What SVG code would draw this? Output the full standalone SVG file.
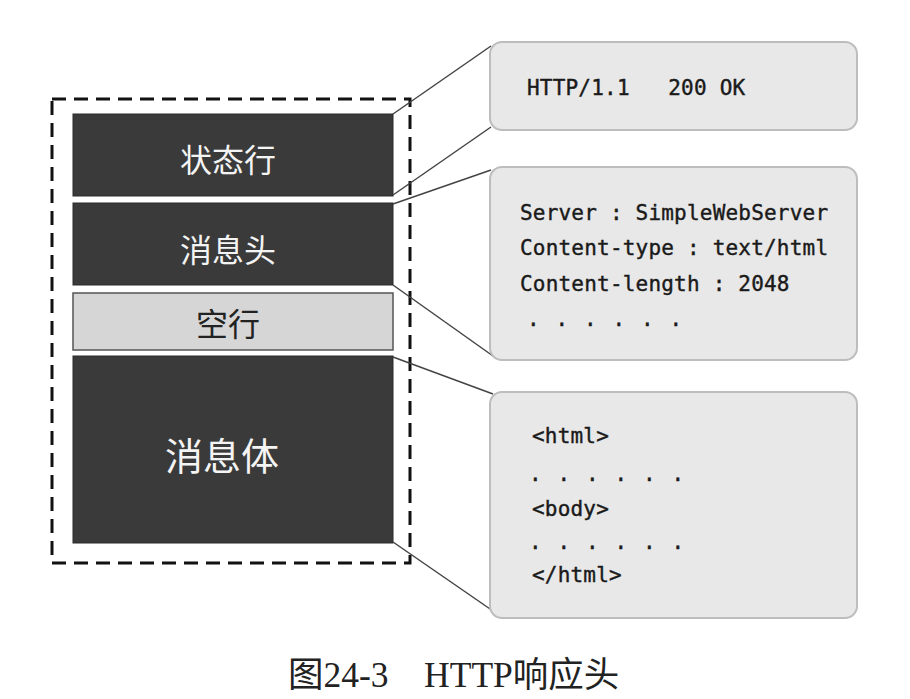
<svg xmlns="http://www.w3.org/2000/svg" width="910" height="699" viewBox="0 0 910 699">
<style>
.dark{fill:#3a3a3a;stroke:#2a2a2a;stroke-width:1}
.light{fill:#d6d6d6;stroke:#555;stroke-width:1.5}
.box{fill:#e8e8e8;stroke:#bdbdbd;stroke-width:2}
.cn{font-family:"Noto Sans CJK SC",sans-serif;text-anchor:middle}
.w{fill:#f4f4f4}
.mono{font-family:"DejaVu Sans Mono","Liberation Mono",monospace;font-size:21px;fill:#1a1a1a;stroke:#1a1a1a;stroke-width:0.4;letter-spacing:0.2px}
.dots{letter-spacing:1.6px}
.conn line{stroke:#444;stroke-width:1.5}
</style>
<rect width="910" height="699" fill="#ffffff"/>
<g id="frame">
<rect x="52" y="99" width="358" height="464" fill="none" stroke="#111" stroke-width="3" stroke-dasharray="14 8"/>
</g>
<g id="status-line">
<rect class="dark" x="73" y="114" width="320" height="82"/>
<text class="cn w" x="228" y="172" font-size="32">状态行</text>
</g>
<g id="message-header">
<rect class="dark" x="73" y="203" width="320" height="82"/>
<text class="cn w" x="228" y="262" font-size="32">消息头</text>
</g>
<g id="blank-line">
<rect class="light" x="73" y="293" width="320" height="57"/>
<text class="cn" x="228" y="336" font-size="32" fill="#222">空行</text>
</g>
<g id="message-body">
<rect class="dark" x="73" y="356" width="320" height="187"/>
<text class="cn w" x="222" y="470" font-size="38">消息体</text>
</g>
<g id="conn" class="conn">
<line x1="393" y1="114" x2="491" y2="46"/>
<line x1="393" y1="195" x2="491" y2="127"/>
<line x1="393" y1="204" x2="491" y2="170"/>
<line x1="393" y1="285" x2="493" y2="356"/>
<line x1="393" y1="357" x2="493" y2="394"/>
<line x1="393" y1="542" x2="493" y2="611"/>
</g>
<g id="box-status">
<rect class="box" x="490" y="42" width="367" height="88" rx="12"/>
<text class="mono" x="527" y="95" xml:space="preserve">HTTP/1.1   200 OK</text>
</g>
<g id="box-header">
<rect class="box" x="490" y="167" width="367" height="193" rx="12"/>
<text class="mono" x="520" y="220">Server : SimpleWebServer</text>
<text class="mono" x="520" y="255">Content-type : text/html</text>
<text class="mono" x="520" y="291">Content-length : 2048</text>
<text class="mono dots" x="527" y="326">. . . . . .</text>
</g>
<g id="box-body">
<rect class="box" x="490" y="392" width="367" height="226" rx="12"/>
<text class="mono" x="532" y="443">&lt;html&gt;</text>
<text class="mono dots" x="529" y="481">. . . . . .</text>
<text class="mono" x="532" y="516">&lt;body&gt;</text>
<text class="mono dots" x="529" y="549">. . . . . .</text>
<text class="mono" x="532" y="582">&lt;/html&gt;</text>
</g>
<text x="288" y="687" font-family="Liberation Serif,Noto Sans CJK SC,serif" font-size="35.5" fill="#222" xml:space="preserve">图24-3    HTTP响应头</text>
</svg>
